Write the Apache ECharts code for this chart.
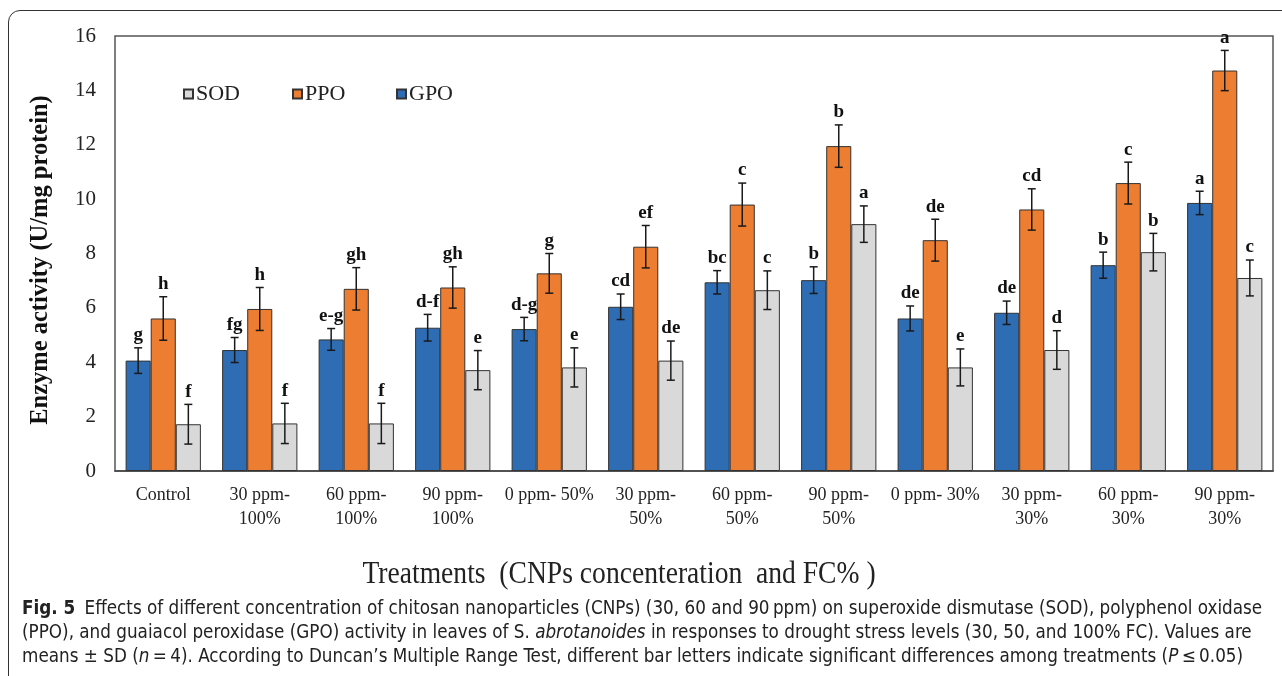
<!DOCTYPE html>
<html>
<head>
<meta charset="utf-8">
<script src="https://cdn.jsdelivr.net/npm/echarts@6/dist/echarts.min.js"></script>
<style>
  html, body { margin: 0; padding: 0; background: #fff; overflow: hidden; }
  body { width: 1282px; height: 676px; position: relative; }
  .frame {
    position: absolute; left: 8px; top: 10px; width: 1400px; height: 800px;
    border: 1px solid #333; border-radius: 12px; box-sizing: border-box;
  }
  #chart { position: absolute; left: 0; top: 0; width: 1282px; height: 676px; }
  .caption {
    position: absolute; left: 22px; top: 596px; width: 1258px;
    font-family: "Liberation Sans Narrow", "DejaVu Sans Condensed", "Open Sans", sans-serif;
    font-size: 18.7px; line-height: 24px; color: #222;
  }
  .caption div { white-space: nowrap; }
  .caption b { font-weight: bold; margin-right: 4px; }
</style>
</head>
<body>
<div class="frame"></div>
<div id="chart"></div>
<div class="caption">
  <div><b>Fig. 5</b> Effects of different concentration of chitosan nanoparticles (CNPs) (30, 60 and 90&#8201;ppm) on superoxide dismutase (SOD), polyphenol oxidase</div>
  <div>(PPO), and guaiacol peroxidase (GPO) activity in leaves of S. <i>abrotanoides</i> in responses to drought stress levels (30, 50, and 100% FC). Values are</div>
  <div>means &#177; SD (<i>n</i>&#8201;=&#8201;4). According to Duncan’s Multiple Range Test, different bar letters indicate significant differences among treatments (<i>P</i>&#8201;&#8804;&#8201;0.05)</div>
</div>
<script>
// categories (treatments)
const categories = [
  'Control', '30 ppm-\n100%', '60 ppm-\n100%', '90 ppm-\n100%', '0 ppm- 50%',
  '30 ppm-\n50%', '60 ppm-\n50%', '90 ppm-\n50%', '0 ppm- 30%',
  '30 ppm-\n30%', '60 ppm-\n30%', '90 ppm-\n30%'
]

// means
const gpo = [4.06, 4.45, 4.84, 5.27, 5.22, 6.04, 6.94, 7.02, 5.61, 5.82, 7.57, 9.86]
const ppo = [5.61, 5.96, 6.70, 6.75, 7.27, 8.25, 9.80, 11.95, 8.49, 9.62, 10.59, 14.73]
const sod = [1.72, 1.75, 1.75, 3.71, 3.81, 4.06, 6.65, 9.08, 3.81, 4.45, 8.05, 7.10]

// SD
const gpoSd = [0.47, 0.46, 0.40, 0.49, 0.43, 0.47, 0.43, 0.49, 0.46, 0.43, 0.48, 0.43]
const ppoSd = [0.80, 0.79, 0.78, 0.76, 0.73, 0.78, 0.79, 0.78, 0.77, 0.76, 0.77, 0.74]
const sodSd = [0.73, 0.74, 0.74, 0.72, 0.72, 0.72, 0.71, 0.67, 0.68, 0.71, 0.69, 0.66]

// Duncan letters
const gpoLetters = ['g', 'fg', 'e-g', 'd-f', 'd-g', 'cd', 'bc', 'b', 'de', 'de', 'b', 'a']
const ppoLetters = ['h', 'h', 'gh', 'gh', 'g', 'ef', 'c', 'b', 'de', 'cd', 'c', 'a']
const sodLetters = ['f', 'f', 'f', 'e', 'e', 'de', 'c', 'a', 'e', 'd', 'b', 'c']

const yTicks = [0, 2, 4, 6, 8, 10, 12, 14, 16]

const colors = { GPO: '#2e6db4', PPO: '#ed7d31', SOD: '#d9d9d9' }
const CAT_GAP = 0.22
const serif = '"Liberation Serif", "Times New Roman", serif'

const chart = echarts.init(document.getElementById('chart'))

function barSeries(name, data) {
  return {
    name: name,
    type: 'bar',
    data: data,
    barGap: '0%',
    barCategoryGap: CAT_GAP * 100 + '%',
    itemStyle: { color: colors[name], borderColor: '#333', borderWidth: 1 },
    z: 2
  }
}

// error bar + letter, pos = 0/1/2 inside the group
function errorSeries(pos, means, sds, letters) {
  return {
    type: 'custom',
    data: means.map((v, i) => [i, v, sds[i]]),
    encode: { x: 0, y: 1 },
    z: 5,
    silent: true,
    renderItem: function (params, api) {
      const i = api.value(0)
      const v = api.value(1)
      const s = api.value(2)
      const band = api.size([1, 0])[0]
      const barW = band * (1 - CAT_GAP) / 3
      const cx = api.coord([i, 0])[0] + (pos - 1) * barW
      const top = api.coord([i, v + s])[1]
      const bot = api.coord([i, v - s])[1]
      const cap = 4
      const st = { stroke: '#1a1a1a', lineWidth: 1.5 }
      return {
        type: 'group',
        children: [
          { type: 'line', shape: { x1: cx, y1: top, x2: cx, y2: bot }, style: st },
          { type: 'line', shape: { x1: cx - cap, y1: top, x2: cx + cap, y2: top }, style: st },
          { type: 'line', shape: { x1: cx - cap, y1: bot, x2: cx + cap, y2: bot }, style: st },
          {
            type: 'text',
            x: cx, y: top - 3,
            style: {
              text: letters[params.dataIndex],
              fill: '#111',
              font: 'bold 19px ' + serif,
              align: 'center',
              verticalAlign: 'bottom'
            }
          }
        ]
      }
    }
  }
}

function legendAt(name, left) {
  return {
    data: [name],
    left: left, top: 83, padding: 0,
    itemWidth: 9, itemHeight: 9,
    icon: 'rect',
    textStyle: { fontFamily: serif, fontSize: 22, color: '#222', padding: [0, 0, 0, -2] }
  }
}

const option = {
  animation: false,
  grid: {
    left: 115, right: 9, top: 36, bottom: 205,
    show: true, borderColor: '#555', borderWidth: 1.5
  },
  legend: [legendAt('SOD', 183), legendAt('PPO', 292), legendAt('GPO', 396)],
  xAxis: {
    type: 'category',
    data: categories,
    axisLine: { lineStyle: { color: '#444', width: 1.5 } },
    axisTick: { show: false },
    axisLabel: {
      interval: 0, margin: 12, lineHeight: 24,
      fontFamily: serif, fontSize: 18, color: '#222'
    }
  },
  yAxis: {
    type: 'value',
    min: yTicks[0], max: yTicks[yTicks.length - 1], interval: 2,
    axisLine: { show: false },
    axisTick: { show: false },
    splitLine: { show: false },
    axisLabel: { margin: 19, fontFamily: serif, fontSize: 21, color: '#222' }
  },
  graphic: [
    {
      type: 'text',
      x: 619, y: 575,
      scaleX: 0.89,
      style: {
        text: 'Treatments  (CNPs concenteration  and FC% )',
        font: '31px ' + serif,
        fill: '#222',
        align: 'center',
        verticalAlign: 'middle'
      }
    },
    {
      type: 'text',
      x: 41, y: 260,
      rotation: Math.PI / 2,
      style: {
        text: 'Enzyme activity (U/mg protein)',
        font: 'bold 24.5px ' + serif,
        fill: '#111',
        align: 'center',
        verticalAlign: 'middle'
      }
    }
  ],
  series: [
    barSeries('GPO', gpo),
    barSeries('PPO', ppo),
    barSeries('SOD', sod),
    errorSeries(0, gpo, gpoSd, gpoLetters),
    errorSeries(1, ppo, ppoSd, ppoLetters),
    errorSeries(2, sod, sodSd, sodLetters)
  ]
}

chart.setOption(option)
</script>
</body>
</html>
